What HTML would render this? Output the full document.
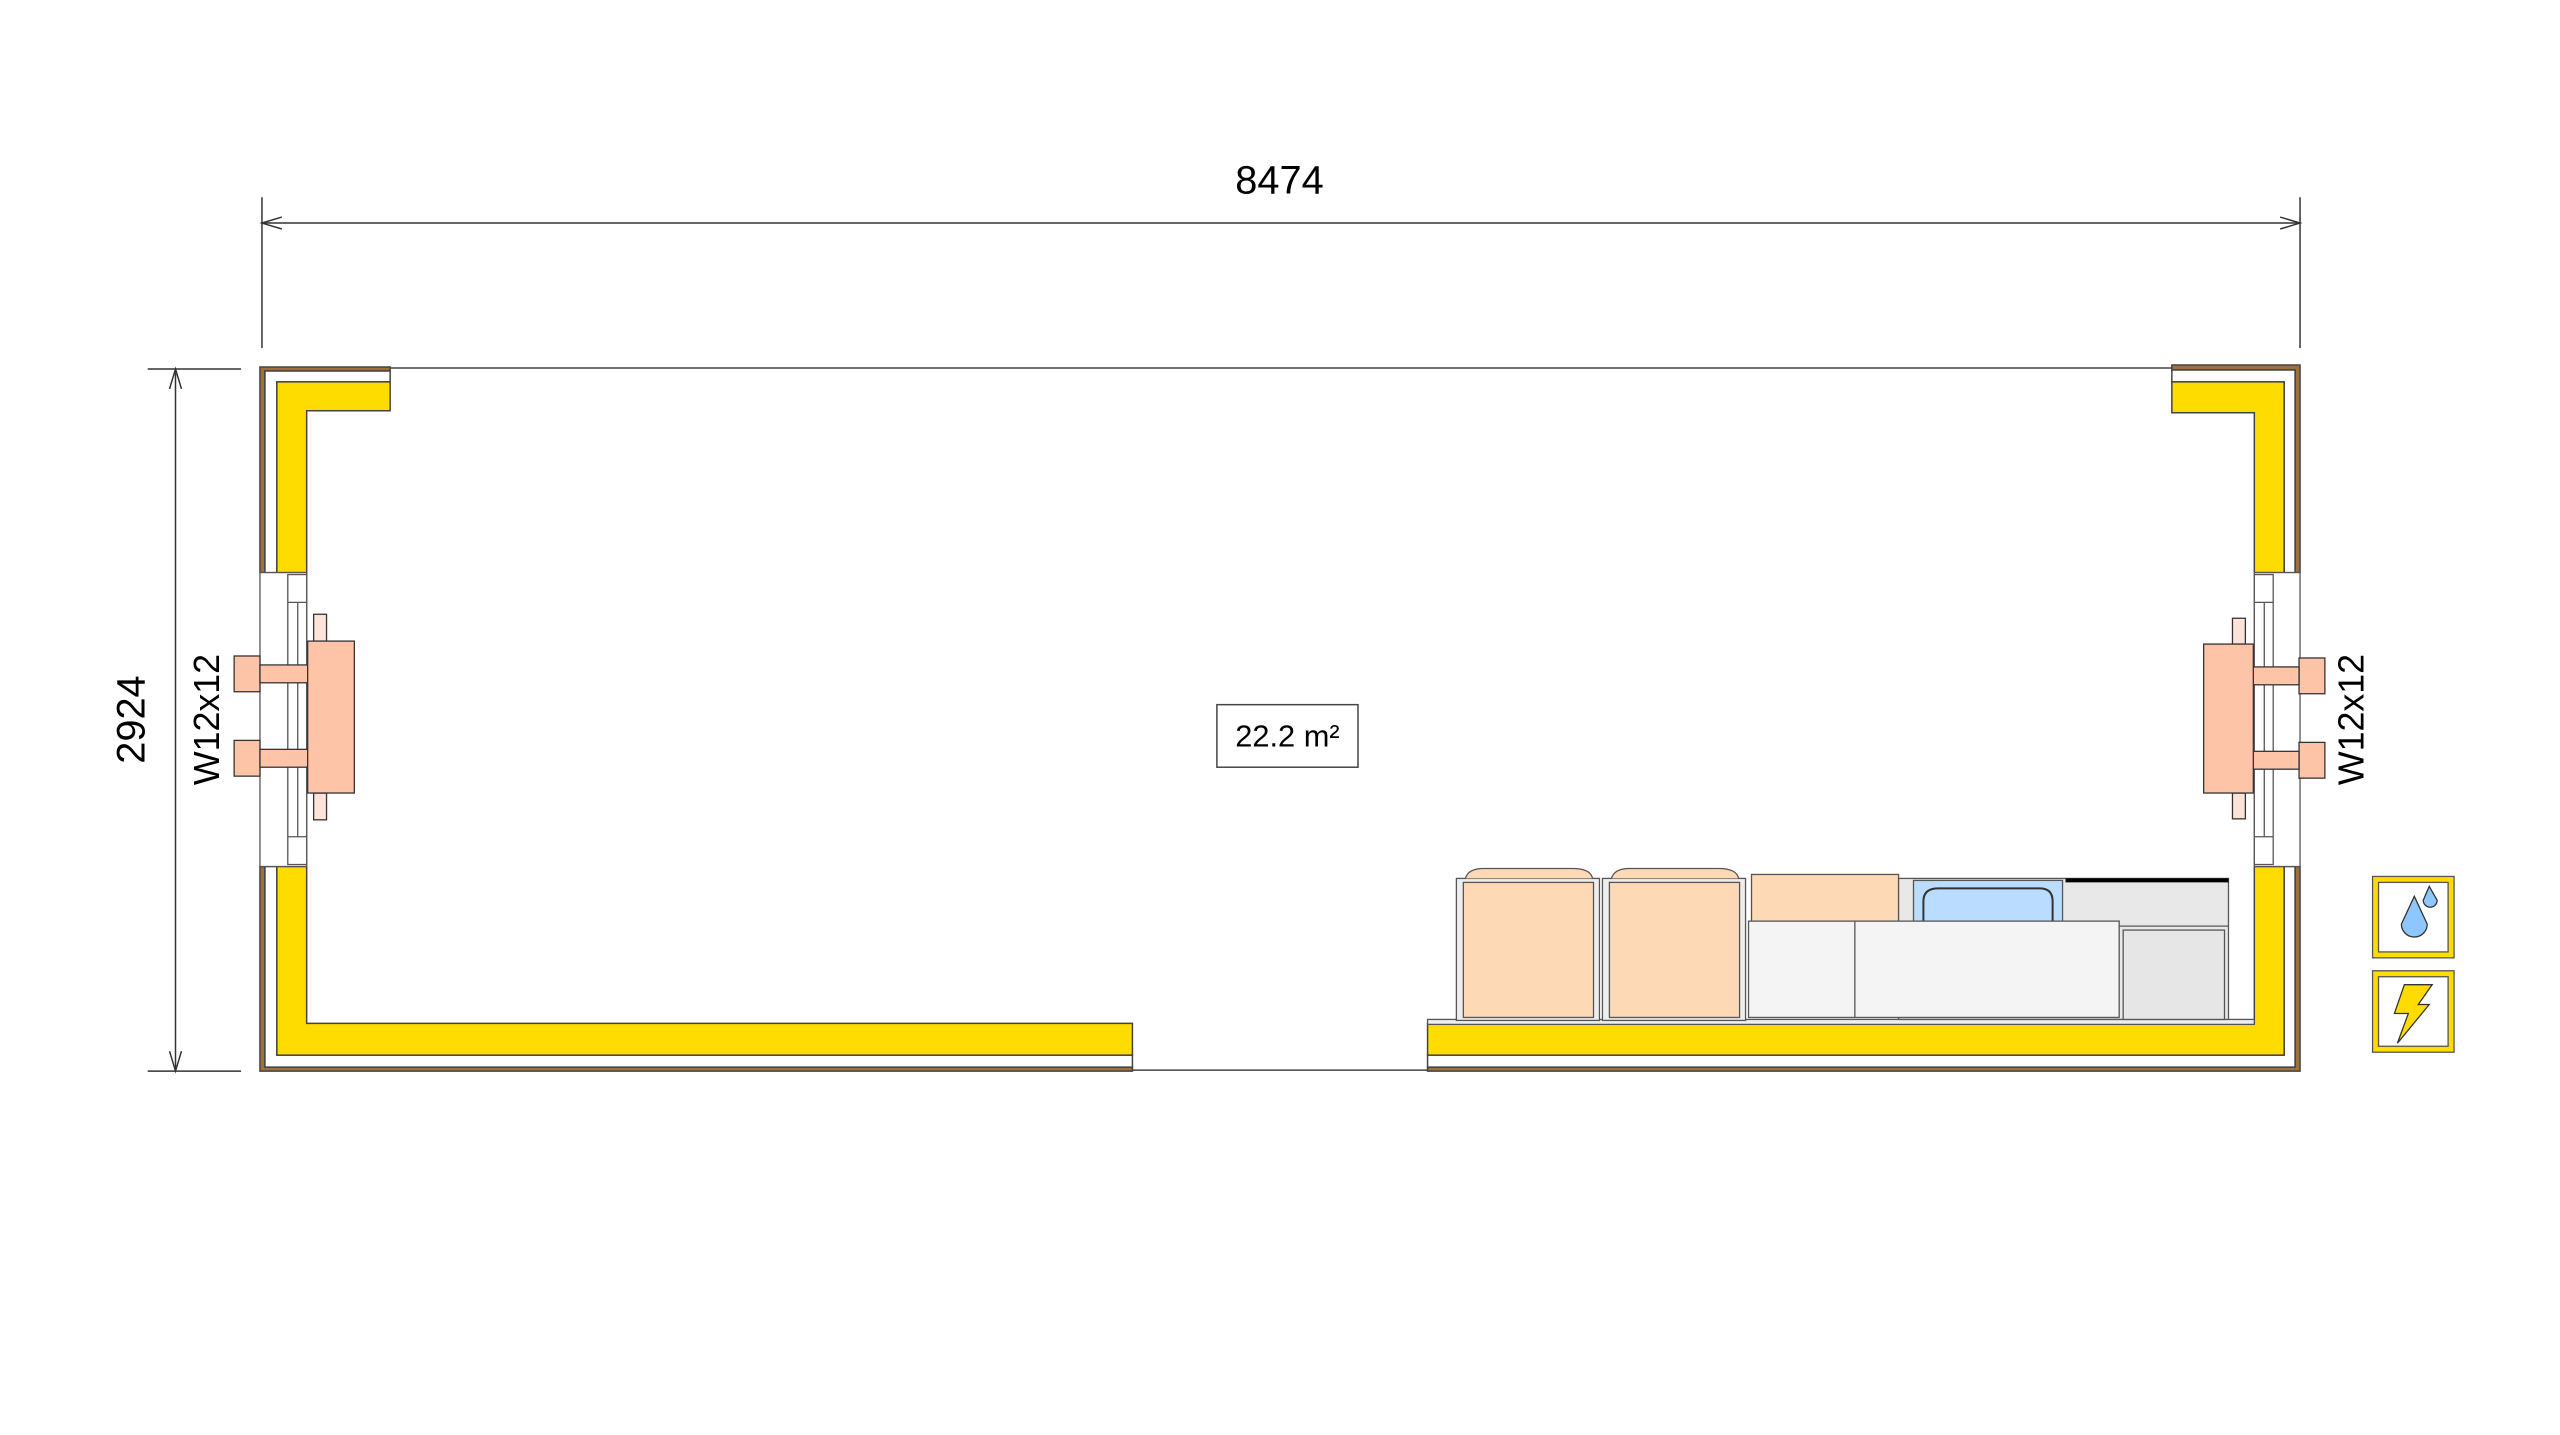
<!DOCTYPE html>
<html><head><meta charset="utf-8"><style>html,body{margin:0;padding:0;background:#fff}svg{display:block}</style></head>
<body>
<svg width="2560" height="1435" viewBox="0 0 2560 1435" xmlns="http://www.w3.org/2000/svg" font-family="Liberation Sans, sans-serif">
<g transform="translate(2.6,2.6) scale(0.9937,0.993)">
<!-- dimensions -->
<g stroke="#333" stroke-width="1.5" fill="none">
<line x1="261" y1="222" x2="2312" y2="222"/>
<line x1="261" y1="196" x2="261" y2="348"/>
<line x1="2312" y1="196" x2="2312" y2="348"/>
<polyline points="281,216 261,222 281,228"/>
<polyline points="2292,216 2312,222 2292,228"/>
<line x1="174" y1="369" x2="174" y2="1076"/>
<line x1="146" y1="369" x2="240" y2="369"/>
<line x1="146" y1="1076" x2="240" y2="1076"/>
<polyline points="168,389 174,369 180,389"/>
<polyline points="168,1056 174,1076 180,1056"/>
</g>
<text x="1285" y="192" font-size="40" text-anchor="middle">8474</text>
<text transform="translate(143,722) rotate(-90)" font-size="40" text-anchor="middle">2924</text>
<text transform="translate(218,722) rotate(-90)" font-size="36" text-anchor="middle">W12x12</text>
<text transform="translate(2376,722) rotate(-90)" font-size="36" text-anchor="middle">W12x12</text>

<line x1="388" y1="368" x2="2183" y2="368" stroke="#444" stroke-width="1.5"/>
<line x1="1137" y1="1075" x2="1434" y2="1075" stroke="#444" stroke-width="1.5"/>

<g stroke="#444" stroke-width="1.5">
<path d="M259 367 H390 V371 H264 V574 H259 Z" fill="#a0703c"/>
<path d="M264 371 H390 V382 H276 V574 H264 Z" fill="#fff"/>
<path d="M276 382 H390 V411 H306 V574 H276 Z" fill="#ffdc00"/>
<path d="M259 870 H264 V1072 H1137 V1076 H259 Z" fill="#a0703c"/>
<path d="M264 870 H276 V1060 H1137 V1072 H264 Z" fill="#fff"/>
<path d="M276 870 H306 V1028 H1137 V1060 H276 Z" fill="#ffdc00"/>
<path d="M2312 365 H2183 V370 H2307 V574 H2312 Z" fill="#a0703c"/>
<path d="M2307 370 H2183 V382 H2296 V574 H2307 Z" fill="#fff"/>
<path d="M2296 382 H2183 V413 H2266 V574 H2296 Z" fill="#ffdc00"/>
<path d="M2312 870 H2307 V1072 H1434 V1076 H2312 Z" fill="#a0703c"/>
<path d="M2307 870 H2296 V1060 H1434 V1072 H2307 Z" fill="#fff"/>
<path d="M2296 870 H2266 V1028 H1434 V1060 H2296 Z" fill="#ffdc00"/>
</g>

<g stroke="#555" stroke-width="1.3" fill="#fff">
<rect x="259" y="574" width="47" height="296"/>
<rect x="287" y="576" width="19" height="292"/>
<line x1="297" y1="604" x2="297" y2="840"/>
<line x1="287" y1="604" x2="306" y2="604"/>
<line x1="287" y1="840" x2="306" y2="840"/>
</g>
<g stroke="#333" stroke-width="1.3" fill="#fdc4a8">
<rect x="313" y="616" width="13" height="27" fill="#fde3d8"/>
<rect x="313" y="796" width="13" height="27" fill="#fde3d8"/>
<rect x="233" y="658" width="26" height="36"/>
<rect x="233" y="743" width="26" height="36"/>
<rect x="259" y="667" width="48" height="18"/>
<rect x="259" y="752" width="48" height="18"/>
<rect x="307" y="643" width="47" height="153"/>
</g>

<g stroke="#555" stroke-width="1.3" fill="#fff">
<rect x="2266" y="574" width="46" height="296"/>
<rect x="2266" y="576" width="19" height="292"/>
<line x1="2276" y1="604" x2="2276" y2="840"/>
<line x1="2266" y1="604" x2="2285" y2="604"/>
<line x1="2266" y1="840" x2="2285" y2="840"/>
</g>
<g stroke="#333" stroke-width="1.3" fill="#fdc4a8">
<rect x="2244" y="620" width="13" height="26" fill="#fde3d8"/>
<rect x="2244" y="796" width="13" height="26" fill="#fde3d8"/>
<rect x="2311" y="660" width="26" height="36"/>
<rect x="2311" y="745" width="26" height="36"/>
<rect x="2265" y="669" width="46" height="18"/>
<rect x="2265" y="754" width="46" height="18"/>
<rect x="2215" y="646" width="50" height="150"/>
</g>

<rect x="1222" y="707" width="142" height="63" fill="#fff" stroke="#444" stroke-width="1.5"/>
<text x="1293" y="749" font-size="31" text-anchor="middle">22.2 m²</text>

<g stroke="#555" stroke-width="1.3">
<rect x="1434" y="1024" width="832" height="5" fill="#eee"/>
<rect x="1463" y="882" width="144" height="143" fill="#eee"/>
<rect x="1470" y="886" width="131" height="136" fill="#fdd9b5"/>
<path d="M1472 882 Q1475 872 1490 872 H1580 Q1598 872 1600 882" fill="#fdd9b5"/>
<rect x="1610" y="882" width="144" height="143" fill="#eee"/>
<rect x="1617" y="886" width="131" height="136" fill="#fdd9b5"/>
<path d="M1619 882 Q1622 872 1637 872 H1727 Q1745 872 1747 882" fill="#fdd9b5"/>
<rect x="1760" y="878" width="148" height="50" fill="#fdd9b5"/>
<rect x="1908" y="882" width="332" height="142" fill="#e8e8e8"/>
<rect x="1923" y="884" width="150" height="45" fill="#b9dcff"/>
<path d="M1933 928 V905 Q1933 892 1948 892 H2050 Q2063 892 2063 905 V928" fill="none" stroke="#333" stroke-width="2"/>
<line x1="2076" y1="884" x2="2240" y2="884" stroke="#000" stroke-width="4"/>
<line x1="2130" y1="930" x2="2240" y2="930"/>
<rect x="1757" y="925" width="373" height="97" fill="#f4f4f4"/>
<line x1="1864" y1="925" x2="1864" y2="1022"/>
<rect x="2134" y="934" width="102" height="90" fill="#e6e6e6"/>
</g>

<g>
<rect x="2385" y="880" width="82" height="82" fill="#ffdc00" stroke="#555" stroke-width="1.3"/>
<rect x="2391" y="886" width="70" height="70" fill="#fff" stroke="#555" stroke-width="1.3"/>
<path d="M2427 900 L2414 928 A12 12 0 1 0 2440 928 Z" fill="#8ec6ff" stroke="#333" stroke-width="1.3"/>
<path d="M2442 890 L2436 904 A7 7 0 1 0 2450 904 Z" fill="#8ec6ff" stroke="#333" stroke-width="1.3"/>
<rect x="2385" y="975" width="82" height="82" fill="#ffdc00" stroke="#555" stroke-width="1.3"/>
<rect x="2391" y="981" width="70" height="70" fill="#fff" stroke="#555" stroke-width="1.3"/>
<path d="M2417 989 L2445 989 L2431 1009 L2442 1009 L2410 1048 L2421 1018 L2407 1018 Z" fill="#ffdc00" stroke="#333" stroke-width="1.3"/>
</g>
</g>
</svg>
</body></html>
